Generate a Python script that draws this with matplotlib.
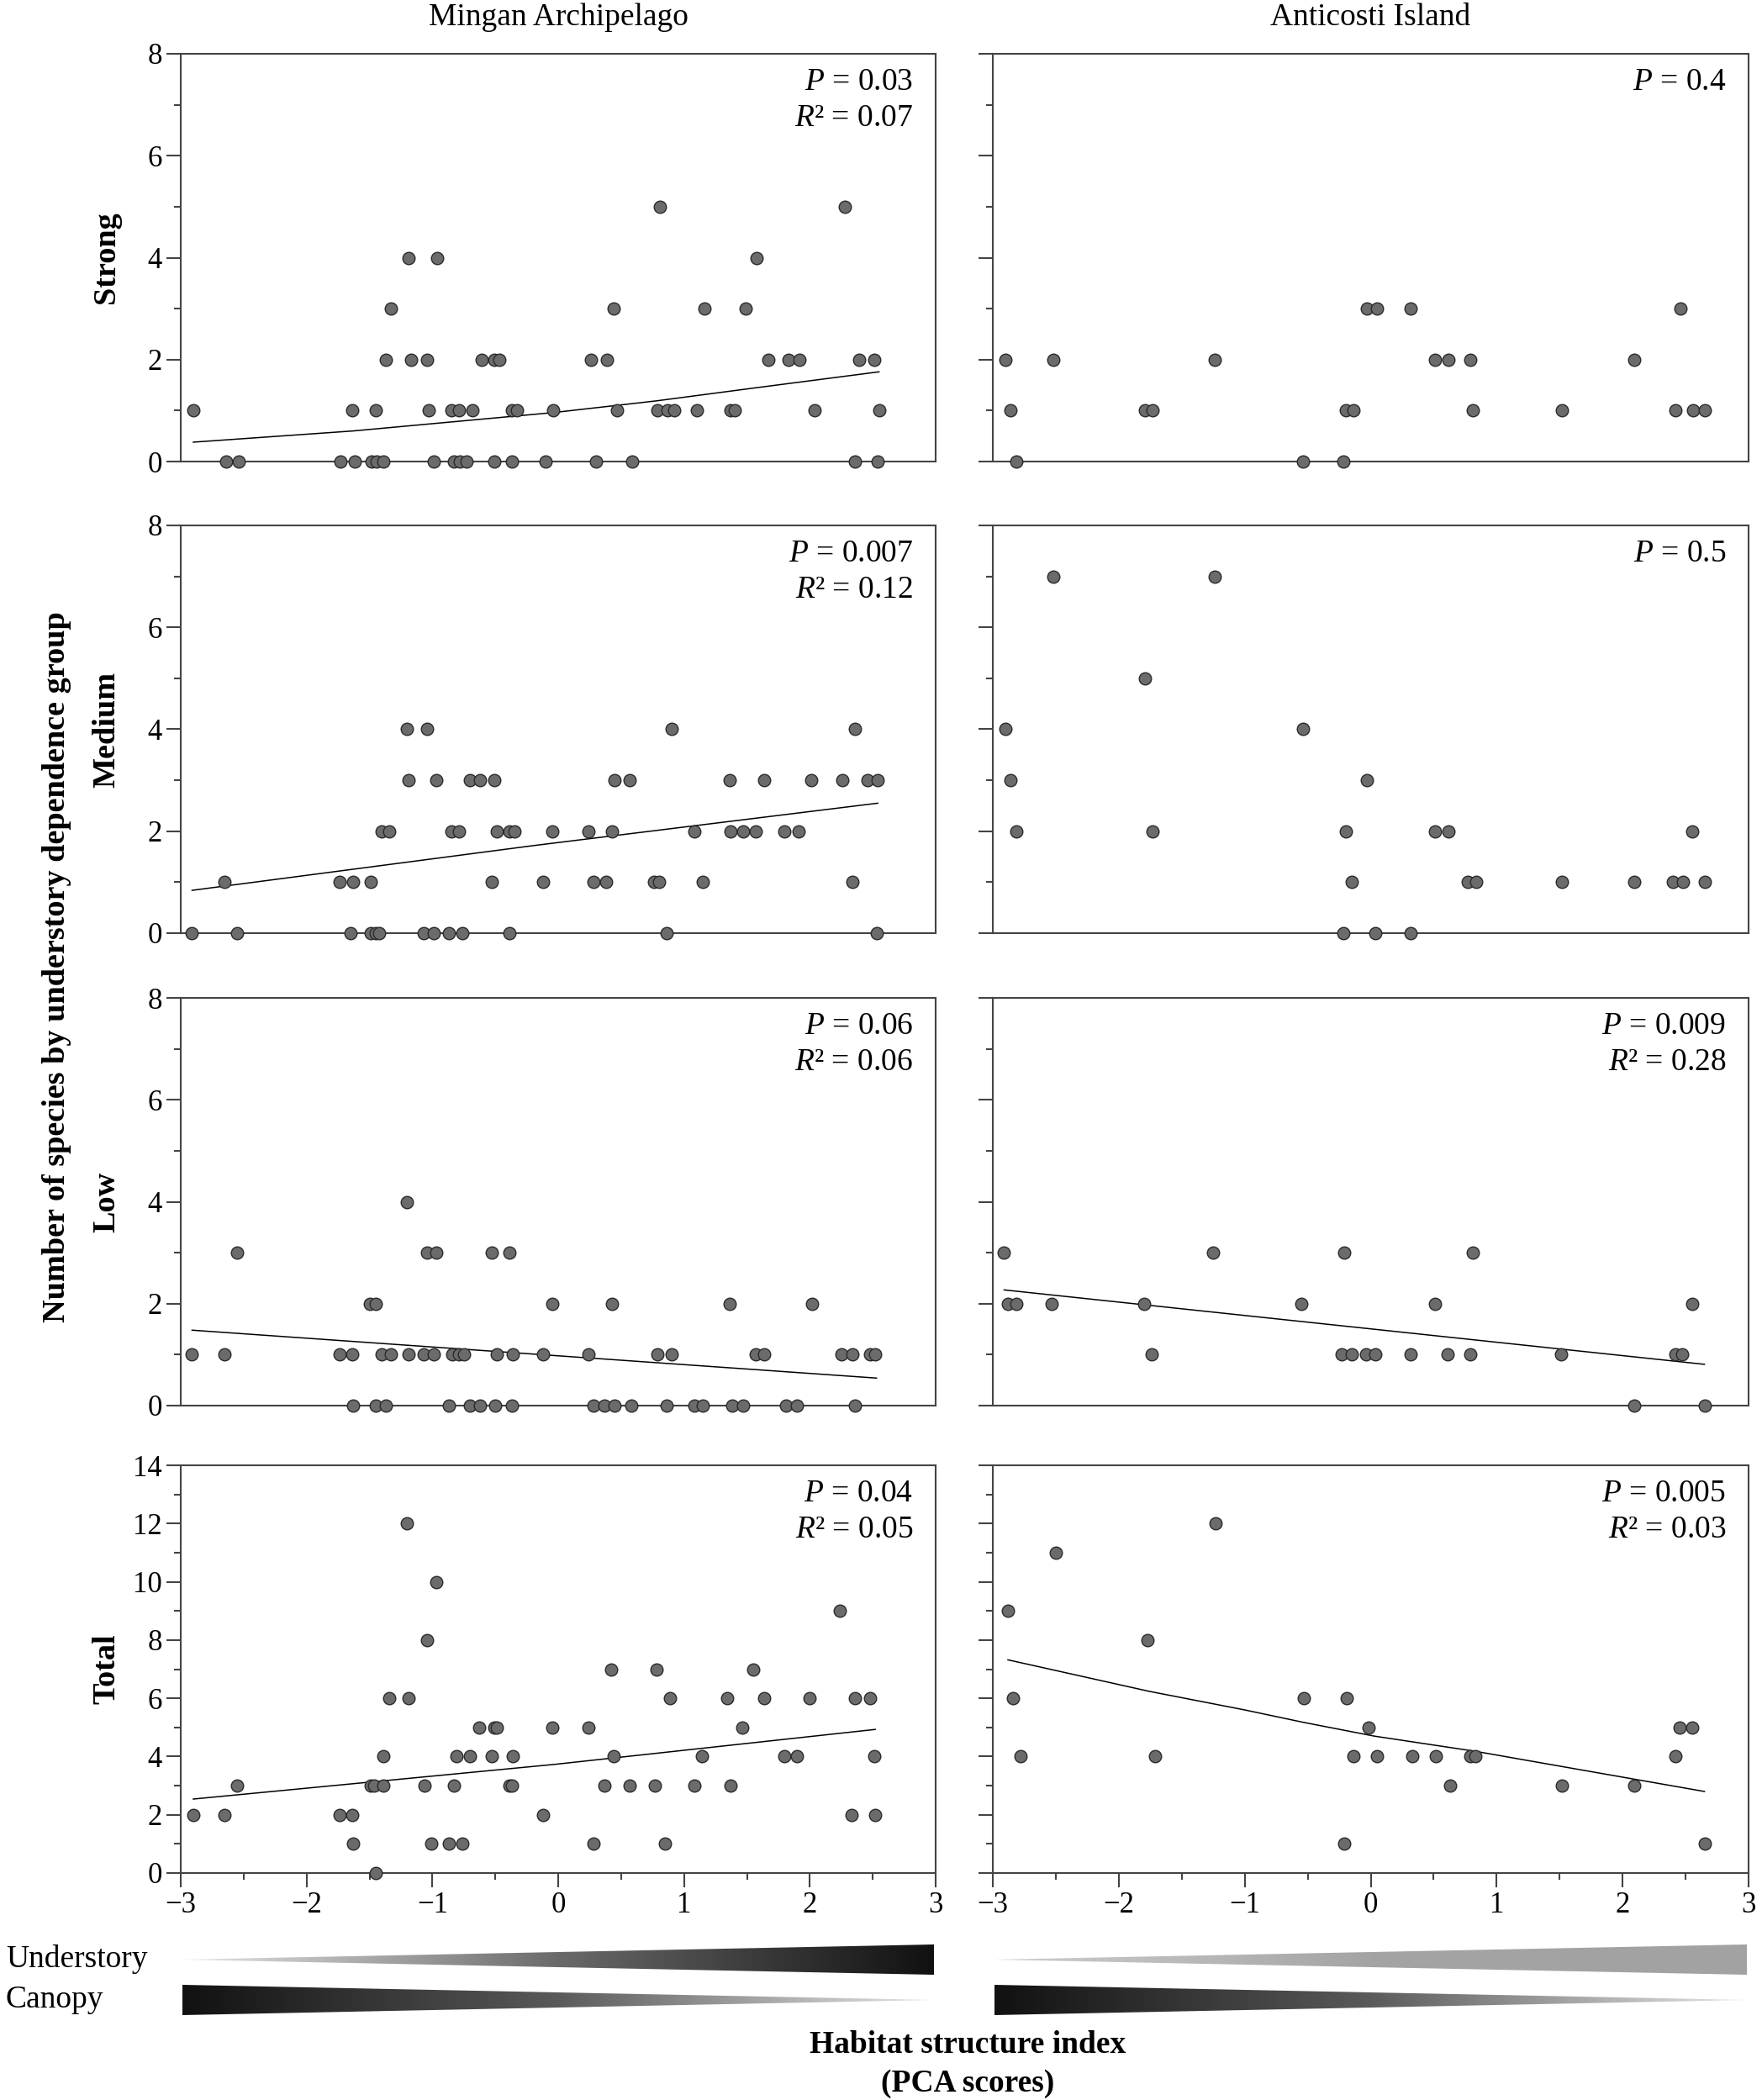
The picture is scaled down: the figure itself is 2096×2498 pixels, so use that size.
import numpy as np
import matplotlib
matplotlib.use("Agg")
import matplotlib.pyplot as plt
from matplotlib.patches import Polygon
from matplotlib.colors import LinearSegmentedColormap
from matplotlib.ticker import MultipleLocator

plt.rcParams['font.family'] = ['Liberation Serif', 'DejaVu Serif']
plt.rcParams['mathtext.fontset'] = 'custom'
plt.rcParams['mathtext.rm'] = 'Liberation Serif'
plt.rcParams['mathtext.it'] = 'Liberation Serif:italic'

# ---------------- data ----------------
sites = ['Mingan Archipelago', 'Anticosti Island']
groups = ['Strong', 'Medium', 'Low', 'Total']
ymax = [8, 8, 8, 14]

# Mingan Archipelago
mingan_strong_x = [-2.64, -2.54, -1.73, -1.62, -1.48, -1.44, -1.39, -0.99, -0.83, -0.78, -0.73, -0.51, -0.37, -0.10, 0.30, 0.59, 2.36, 2.54,
                   -2.90, -1.64, -1.45, -1.03, -0.85, -0.79, -0.68, -0.37, -0.33, -0.04, 0.47, 0.79, 0.87, 0.92, 1.10, 1.37, 1.40, 2.04, 2.55,
                   -1.37, -1.17, -1.04, -0.61, -0.51, -0.47, 0.26, 0.39, 1.67, 1.83, 1.92, 2.39, 2.51,
                   -1.33, 0.44, 1.16, 1.49,
                   -1.19, -0.96, 1.58,
                   0.81, 2.28]
mingan_strong_y = [0] * 18 + [1] * 19 + [2] * 13 + [3] * 4 + [4] * 3 + [5] * 2

mingan_medium_x = [-2.91, -2.55, -1.65, -1.49, -1.45, -1.42, -1.07, -0.99, -0.87, -0.76, -0.39, 0.86, 2.53,
                   -2.65, -1.74, -1.63, -1.49, -0.53, -0.12, 0.28, 0.38, 0.76, 0.80, 1.15, 2.34,
                   -1.40, -1.34, -0.85, -0.79, -0.49, -0.39, -0.35, -0.05, 0.24, 0.43, 1.08, 1.37, 1.47, 1.57, 1.80, 1.91,
                   -1.19, -0.97, -0.70, -0.62, -0.51, 0.45, 0.57, 1.36, 1.64, 2.01, 2.26, 2.46, 2.54,
                   -1.20, -1.04, 0.90, 2.36]
mingan_medium_y = [0] * 13 + [1] * 12 + [2] * 16 + [3] * 13 + [4] * 4

mingan_low_x = [-1.63, -1.45, -1.37, -0.87, -0.70, -0.62, -0.50, -0.37, 0.28, 0.37, 0.45, 0.58, 0.86, 1.08, 1.15, 1.38, 1.47, 1.81, 1.90, 2.36,
                -2.91, -2.65, -1.74, -1.64, -1.40, -1.33, -1.19, -1.07, -0.99, -0.84, -0.79, -0.75, -0.49, -0.36, -0.12, 0.24, 0.79, 0.90,
                1.57, 1.64, 2.25, 2.34, 2.48, 2.52,
                -1.50, -1.45, -0.05, 0.43, 1.36, 2.02,
                -2.55, -1.04, -0.97, -0.53, -0.39,
                -1.20]
mingan_low_y = [0] * 20 + [1] * 24 + [2] * 6 + [3] * 5 + [4]

mingan_total_x = [-1.45,
                  -1.63, -1.01, -0.87, -0.76, 0.28, 0.85,
                  -2.90, -2.65, -1.74, -1.64, -0.12, 2.33, 2.52,
                  -2.55, -1.49, -1.46, -1.39, -1.06, -0.83, -0.39, -0.37, 0.37, 0.57, 0.77, 1.08, 1.37,
                  -1.39, -0.81, -0.70, -0.53, -0.36, 0.44, 1.14, 1.80, 1.90, 2.51,
                  -0.63, -0.51, -0.49, -0.05, 0.24, 1.46,
                  -1.34, -1.19, 0.89, 1.34, 1.64, 2.00, 2.36, 2.48,
                  0.42, 0.78, 1.55,
                  -1.04, 2.24, -0.97, -1.20]
mingan_total_y = [0] + [1] * 6 + [2] * 7 + [3] * 13 + [4] * 10 + [5] * 6 + [6] * 8 + [7] * 3 + [8, 9, 10, 12]

# Anticosti Island
anticosti_strong_x = [-2.81, -0.54, -0.22,
                      -2.86, -1.79, -1.73, -0.20, -0.14, 0.81, 1.52, 2.42, 2.56, 2.65,
                      -2.90, -2.52, -1.24, 0.51, 0.62, 0.79, 2.09,
                      -0.03, 0.05, 0.32, 2.46]
anticosti_strong_y = [0] * 3 + [1] * 10 + [2] * 7 + [3] * 4

anticosti_medium_x = [-0.22, 0.04, 0.32,
                      -0.15, 0.77, 0.84, 1.52, 2.09, 2.40, 2.48, 2.65,
                      -2.81, -1.73, -0.20, 0.51, 0.62, 2.55,
                      -2.86, -0.03,
                      -2.90, -0.54,
                      -1.79,
                      -2.52, -1.24]
anticosti_medium_y = [0] * 3 + [1] * 8 + [2] * 6 + [3] * 2 + [4] * 2 + [5] + [7] * 2

anticosti_low_x = [2.09, 2.65,
                   -1.74, -0.23, -0.15, -0.04, 0.04, 0.32, 0.61, 0.79, 1.51, 2.42, 2.47,
                   -2.88, -2.81, -2.53, -1.80, -0.55, 0.51, 2.55,
                   -2.91, -1.25, -0.21, 0.81]
anticosti_low_y = [0] * 2 + [1] * 11 + [2] * 7 + [3] * 4

anticosti_total_x = [-0.21, 2.65,
                     0.63, 1.52, 2.09,
                     -2.78, -1.71, -0.14, 0.05, 0.33, 0.52, 0.79, 0.83, 2.42,
                     -0.02, 2.45, 2.55,
                     -2.84, -0.53, -0.19,
                     -1.77, -2.88, -2.50, -1.23]
anticosti_total_y = [1] * 2 + [3] * 3 + [4] * 9 + [5] * 3 + [6] * 3 + [8, 9, 11, 12]

# fitted curves (read as points along each drawn line)
mingan_fit_x = [[-2.90, -1.63, -0.04, 0.78, 1.58, 2.55],
                [-2.91, -0.19, 2.54],
                [-2.91, 2.53],
                [-2.90, -0.03, 2.52]]
mingan_fit_y = [[0.38, 0.60, 0.96, 1.19, 1.45, 1.76],
                [0.84, 1.72, 2.55],
                [1.48, 0.54],
                [2.54, 3.73, 4.93]]
anticosti_fit_x = [None, None,
                   [-2.91, 2.65],
                   [-2.88, -1.76, -1.00, -0.53, 0.03, 0.83, 1.62, 2.65]]
anticosti_fit_y = [None, None,
                   [2.27, 0.81],
                   [7.32, 6.24, 5.60, 5.17, 4.70, 4.18, 3.58, 2.80]]

mingan_p = ['0.03', '0.007', '0.06', '0.04']
mingan_r2 = ['0.07', '0.12', '0.06', '0.05']
anticosti_p = ['0.4', '0.5', '0.009', '0.005']
anticosti_r2 = [None, None, '0.28', '0.03']

xs = [[mingan_strong_x, mingan_medium_x, mingan_low_x, mingan_total_x],
      [anticosti_strong_x, anticosti_medium_x, anticosti_low_x, anticosti_total_x]]
ys = [[mingan_strong_y, mingan_medium_y, mingan_low_y, mingan_total_y],
      [anticosti_strong_y, anticosti_medium_y, anticosti_low_y, anticosti_total_y]]
fits_x = [mingan_fit_x, anticosti_fit_x]
fits_y = [mingan_fit_y, anticosti_fit_y]
pvals = [mingan_p, anticosti_p]
r2vals = [mingan_r2, anticosti_r2]

# ---------------- layout ----------------
W, H = 2096, 2498
fig = plt.figure(figsize=(W / 100, H / 100), dpi=100)

col_x = [(215, 1113), (1181, 2080)]
row_top = [64, 625, 1187, 1743]
row_h = 485
spine_col = '#444444'
TICK_FS = 25
TXT_FS = 27
BOLD_FS = 27.5


def fig_rect(x0, x1, top, h):
    return [x0 / W, 1 - (top + h) / H, (x1 - x0) / W, h / H]


for c in range(2):
    for r in range(4):
        ax = fig.add_axes(fig_rect(col_x[c][0], col_x[c][1], row_top[r], row_h))
        ax.set_xlim(-3, 3)
        ax.set_ylim(0, ymax[r])
        ax.yaxis.set_major_locator(MultipleLocator(2))
        ax.yaxis.set_minor_locator(MultipleLocator(1))
        ax.xaxis.set_major_locator(MultipleLocator(1))
        ax.xaxis.set_minor_locator(MultipleLocator(0.5))
        for s in ax.spines.values():
            s.set_color(spine_col)
            s.set_linewidth(1.5)
        ax.tick_params(which='both', direction='out', color=spine_col, width=1.5,
                       labelsize=TICK_FS, labelcolor='black', pad=4)
        ax.tick_params(which='major', length=12)
        ax.tick_params(which='minor', length=6)
        if c == 1:
            ax.tick_params(labelleft=False)
        if r < 3:
            ax.tick_params(axis='x', which='both', bottom=False, labelbottom=False)

        if fits_x[c][r] is not None:
            ax.plot(fits_x[c][r], fits_y[c][r], color='black', lw=1.1, zorder=2)
        ax.scatter(xs[c][r], ys[c][r], s=110, facecolor='#6b6b6b', edgecolor='#2a2a2a',
                   linewidth=1.0, zorder=3, clip_on=False)

        ax.text(0.97, 0.911, '$P$ = ' + pvals[c][r], transform=ax.transAxes,
                ha='right', va='baseline', fontsize=TXT_FS)
        if r2vals[c][r] is not None:
            ax.text(0.97, 0.823, '$R$\u00b2 = ' + r2vals[c][r], transform=ax.transAxes,
                    ha='right', va='baseline', fontsize=TXT_FS)

    fig.text((col_x[c][0] + col_x[c][1]) / 2 / W, 1 - 21 / H, sites[c],
             ha='center', va='center', fontsize=TXT_FS)

for r in range(4):
    fig.text(127 / W, 1 - (row_top[r] + row_h / 2) / H, groups[r], rotation=90,
             ha='center', va='center', fontsize=BOLD_FS, fontweight='bold')

fig.text(68 / W, 1 - 1150 / H, 'Number of species by understory dependence group',
         rotation=90, ha='center', va='center', fontsize=BOLD_FS, fontweight='bold')


# ---------------- gradient wedges ----------------
def wedge(ax, yc, half, colors, apex_left):
    grad = np.linspace(0, 1, 256).reshape(1, -1)
    cmap = LinearSegmentedColormap.from_list('w', colors)
    im = ax.imshow(grad, extent=[-3, 3, yc - half, yc + half], aspect='auto', cmap=cmap)
    if apex_left:
        verts = [(-3, yc), (3, yc + half), (3, yc - half)]
    else:
        verts = [(-3, yc + half), (-3, yc - half), (3, yc)]
    poly = Polygon(verts, closed=True, facecolor='none', edgecolor='none', transform=ax.transData)
    ax.add_patch(poly)
    im.set_clip_path(poly)


under_colors = [['#e6e6e6', '#6a6a6a', '#111111'], ['#cfcfcf', '#a4a4a4', '#a2a2a2']]
canopy_colors = [['#111111', '#5a5a5a', '#e6e6e6'], ['#111111', '#5a5a5a', '#e6e6e6']]
for c in range(2):
    gax = fig.add_axes(fig_rect(col_x[c][0] + 2, col_x[c][1] - 2, 2305, 100))
    gax.set_xlim(-3, 3)
    gax.set_ylim(0, 1)
    gax.axis('off')
    wedge(gax, 0.74, 0.18, under_colors[c], True)
    wedge(gax, 0.26, 0.18, canopy_colors[c], False)

fig.text(7 / W, 1 - 2331 / H, 'Understory', ha='left', va='center', fontsize=TXT_FS)
fig.text(7 / W, 1 - 2379 / H, 'Canopy', ha='left', va='center', fontsize=TXT_FS)
fig.text(1151 / W, 1 - 2432 / H, 'Habitat structure index', ha='center', va='center',
         fontsize=TXT_FS, fontweight='bold')
fig.text(1151 / W, 1 - 2478 / H, '(PCA scores)', ha='center', va='center',
         fontsize=TXT_FS, fontweight='bold')

fig.savefig('out.png', dpi=100, facecolor='white')
